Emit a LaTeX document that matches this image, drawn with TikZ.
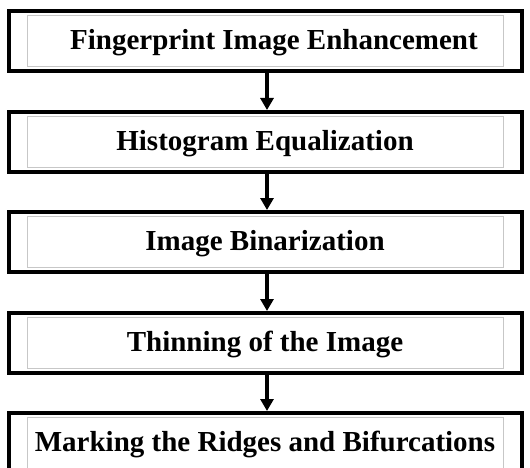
\documentclass[tikz,border=0pt]{standalone}
\usepackage{fontspec}
\setmainfont{Liberation Serif}
\usetikzlibrary{arrows.meta}
\begin{document}
\begin{tikzpicture}[x=1pt,y=-1pt,
  stage/.style={draw=black, line width=4pt, minimum width=513pt, minimum height=60pt,
    inner sep=0pt, text height=20pt, text depth=3pt,
    font=\bfseries\fontsize{29}{34}\selectfont},
  panel/.style={draw=black!22, line width=0.8pt},
  flow/.style={line width=4pt, -{Triangle[width=13pt,length=12pt]}}]
\useasboundingbox (0,0) rectangle (530,468);
\clip (0,0) rectangle (530,468);
\node[stage] (b1) at (265,41) {\hspace{18pt}Fingerprint Image Enhancement};
\node[stage] (b2) at (265,142) {Histogram Equalization};
\node[stage] (b3) at (265,242) {Image Binarization};
\node[stage] (b4) at (265,343) {Thinning of the Image};
\node[stage] (b5) at (265,443) {Marking the Ridges and Bifurcations};
\foreach \b in {b1,b2,b3,b4,b5}
  \draw[panel] ([shift={(20.5,6)}]\b.north west) rectangle ([shift={(-20.5,-7)}]\b.south east);
\foreach \a/\b in {b1/b2,b2/b3,b3/b4,b4/b5}
  \draw[flow] ([xshift=2pt]\a.south) -- ([xshift=2pt]\b.north);
\end{tikzpicture}
\end{document}
